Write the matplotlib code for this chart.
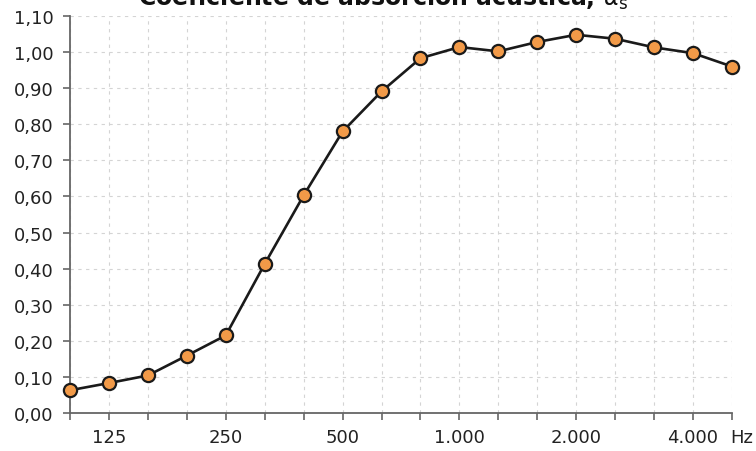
import numpy as np
import matplotlib
matplotlib.use("Agg")
import matplotlib.pyplot as plt

# third-octave bands, Hz
bands = [100, 125, 160, 200, 250, 315, 400, 500, 630, 800,
         1000, 1250, 1600, 2000, 2500, 3150, 4000, 5000]
alpha_s = [0.063, 0.083, 0.104, 0.159, 0.215, 0.413, 0.603, 0.780, 0.891,
           0.983, 1.014, 1.002, 1.028, 1.048, 1.037, 1.013, 0.997, 0.960]
labelled = {125: "125", 250: "250", 500: "500",
            1000: "1.000", 2000: "2.000", 4000: "4.000"}
yticks = np.arange(0, 1.101, 0.1)

fig = plt.figure(figsize=(7.56, 4.52), dpi=100)
ax = fig.add_axes([70 / 756, 38 / 452, 662 / 756, 397 / 452])

x = np.arange(len(bands))
ax.plot(x, alpha_s, color="#1a1a1a", lw=1.9, marker="o", ms=9.5,
        mfc="#f29a48", mec="#1a1a1a", mew=1.6, clip_on=False, zorder=3)

ax.set_xlim(0, len(bands) - 1)
ax.set_ylim(0, 1.1)
ax.set_xticks(x)
ax.set_xticklabels([labelled.get(b, "") for b in bands])
ax.set_yticks(yticks)
ax.set_yticklabels([f"{v:.2f}".replace(".", ",") for v in yticks])

ax.grid(True, color="#d4d4d4", lw=0.8, ls=(0, (3, 4)))
ax.set_axisbelow(True)
for s in ["top", "right"]:
    ax.spines[s].set_visible(False)
for s in ["left", "bottom"]:
    ax.spines[s].set_color("#666666")
    ax.spines[s].set_linewidth(1.3)
ax.tick_params(axis="both", colors="#666666", length=5, width=1.2,
               labelsize=13, labelcolor="#222222")
ax.tick_params(axis="y", pad=7)
ax.tick_params(axis="x", pad=6)

# unit sits on the same line as the x tick labels (tick length + pad)
ax.annotate("Hz", xy=(1, 0), xycoords="axes fraction", xytext=(-1.5, -11),
            textcoords="offset points", ha="left", va="top",
            fontsize=13, color="#222222")

fig.text(0.507, 1 - 6 / 452, r"Coeficiente de absorción acústica, $\alpha_\mathrm{s}$",
         ha="center", va="baseline", fontsize=17, fontweight="bold",
         color="#111111")

fig.savefig("out.png", dpi=100)
